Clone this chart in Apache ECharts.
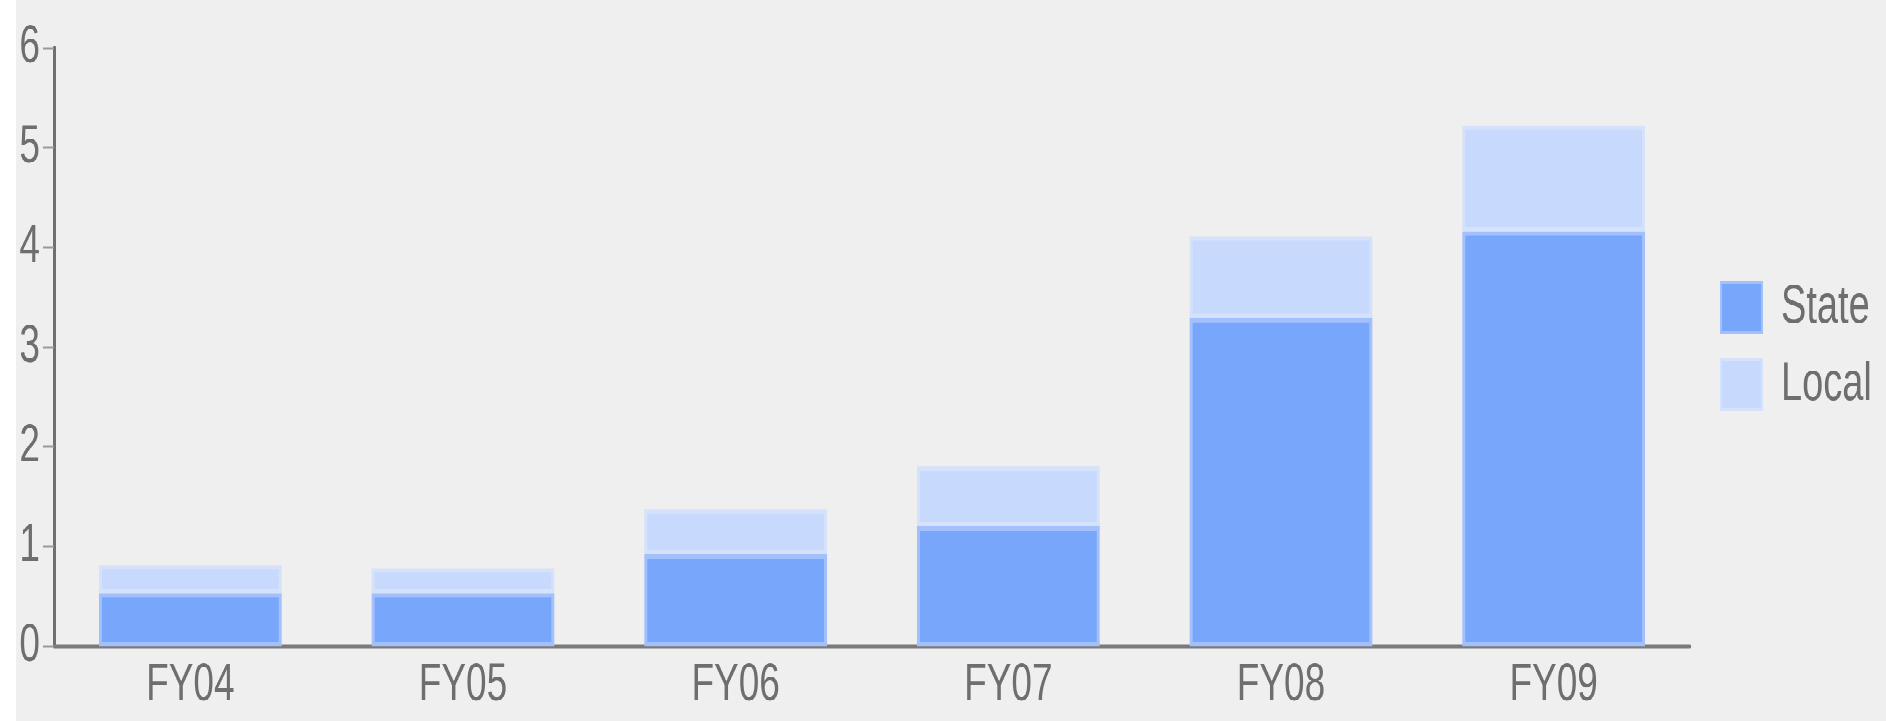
<!DOCTYPE html>
<html>
<head>
<meta charset="utf-8">
<script src="https://cdn.jsdelivr.net/npm/echarts@6/dist/echarts.min.js"></script>
<style>
    html, body { margin: 0; padding: 0; background: #ffffff; overflow: hidden; width: 1886px; height: 721px; }
    /* the source picture is a small chart stretched up, taller than wide, so stretch ours too */
    #chart { position: absolute; left: 16px; top: 0; width: 1870px; height: 504px; background: #efefef;
             transform: scaleY(1.4306); transform-origin: 0 0; }
</style>
</head>
<body>
<div id="chart"></div>
<script>
var years = ["FY04", "FY05", "FY06", "FY07", "FY08", "FY09"];
var stateVals = [0.53, 0.53, 0.92, 1.2, 3.29, 4.16];
var localVals = [0.28, 0.25, 0.45, 0.6, 0.82, 1.06];

var font = '"Liberation Sans", Arial, sans-serif';

var c = echarts.init(document.getElementById("chart"), null, { devicePixelRatio: 2 });
var opt = {
    backgroundColor: "#efefef",
    animation: false,
    textStyle: { fontFamily: font },
    legend: {
        orient: "vertical",
        left: 1704,
        top: 196,
        padding: 0,
        icon: "rect",
        itemWidth: 41,
        itemHeight: 35,
        itemGap: 16,
        textStyle: { fontFamily: font, fontSize: 38, lineHeight: 35, color: "#6e6e6e", padding: [0, 0, 0, 14] },
        data: ["State", "Local"]
    },
    grid: {
        left: 38,
        right: 196,
        top: 33.5,
        bottom: 52.4
    },
    xAxis: {
        type: "category",
        data: years,
        axisLine: { lineStyle: { color: "#7a7a7a", width: 2.4 } },
        axisTick: { alignWithLabel: true, length: 10, lineStyle: { color: "#8a8a8a", width: 2 } },
        axisLabel: { fontFamily: font, fontSize: 37, color: "#6e6e6e", margin: 9 }
    },
    yAxis: {
        type: "value",
        min: 0,
        max: 6,
        interval: 1,
        splitLine: { show: false },
        axisLine: { show: true, lineStyle: { color: "#707070", width: 3 } },
        axisTick: { show: true, length: 11, lineStyle: { color: "#9a9a9a", width: 1.5 } },
        axisLabel: { fontFamily: font, fontSize: 37, color: "#6e6e6e", margin: 14 }
    },
    series: [{
        name: "State",
        type: "bar",
        stack: "total",
        barWidth: "67%",
        data: stateVals,
        itemStyle: { color: "#78a6fa", borderColor: "#a2c0fb", borderWidth: 3 }
    }, {
        name: "Local",
        type: "bar",
        stack: "total",
        barWidth: "67%",
        data: localVals,
        itemStyle: { color: "#c7d9fc", borderColor: "#d5e2fa", borderWidth: 3 }
    }]
};
c.setOption(opt);
window.addEventListener("resize", c.resize);
</script>
</body>
</html>
